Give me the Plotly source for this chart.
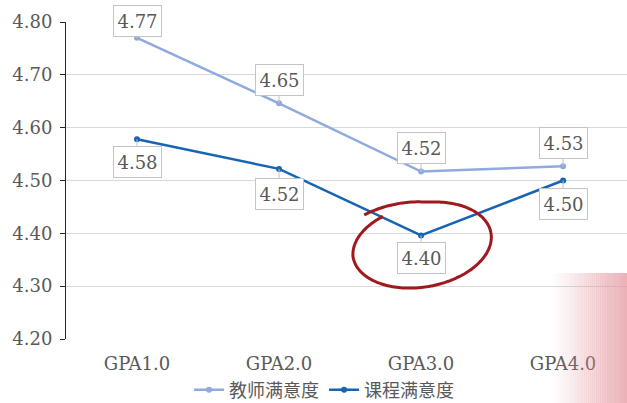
import numpy as np
import plotly.graph_objects as go

categories = ["GPA1.0", "GPA2.0", "GPA3.0", "GPA4.0"]
teacher = [4.770, 4.646, 4.517, 4.527]
course = [4.578, 4.522, 4.396, 4.500]
yticks = [4.20, 4.30, 4.40, 4.50, 4.60, 4.70, 4.80]

W, H = 627, 403
L, R, T, B = 66, 0, 22, 64
PW, PH = W - L - R, H - T - B

LIGHT = "#8FAADC"
DARK = "#1764B4"
GRAY = "#595959"
SERIF = "DejaVu Serif"

fig = go.Figure()
fig.add_trace(go.Scatter(x=categories, y=teacher, name="教师满意度", mode="lines+markers",
                         line=dict(color=LIGHT, width=2.5), marker=dict(size=6, color=LIGHT)))
fig.add_trace(go.Scatter(x=categories, y=course, name="课程满意度", mode="lines+markers",
                         line=dict(color=DARK, width=2.5), marker=dict(size=6, color=DARK)))

# callout labels
light_ay = [-17, -23, -24, -23]
dark_ay = [23, 25, 23, 23]
for series, ays in ((teacher, light_ay), (course, dark_ay)):
    for c, v, ay in zip(categories, series, ays):
        fig.add_annotation(x=c, y=v, text=f"{v:.2f}", showarrow=True, arrowhead=0,
                           arrowcolor="#C4C4C4", arrowwidth=1, ax=0, ay=ay,
                           bgcolor="white", bordercolor="#C4C4C4", borderwidth=1,
                           borderpad=1, width=45, height=28,
                           font=dict(family=SERIF, size=18, color=GRAY))

# hand-drawn red ellipse around the GPA3.0 course point (overlay axes in pixel units)
cx, cy, a, b, phi = 422, 245, 70, 42, np.radians(10)
t = np.radians(np.linspace(128, -240, 220))
deg = np.degrees(t)
scale = 1 + 0.2 * np.clip((deg - 80) / 48, 0, 1) - 0.04 * np.clip(-(deg + 180) / 60, 0, 1)
ex = a * scale * np.cos(t)
ey = b * scale * np.sin(t)
rx = ex * np.cos(phi) - ey * np.sin(phi)
ry = ex * np.sin(phi) + ey * np.cos(phi)
fig.add_trace(go.Scatter(x=cx + rx, y=cy - ry, mode="lines", xaxis="x2", yaxis="y2",
                         line=dict(color="#A0191E", width=3, shape="spline"),
                         showlegend=False, hoverinfo="skip"))

def px2paper(px, py):
    return (px - L) / PW, (H - B - py) / PH

# pink gradient at bottom right
x0p, x1p, y0p, y1p = 550, 627, 273, 403
n = 40
for i in range(n):
    xa = x0p + (x1p - x0p) * i / n
    xb = x0p + (x1p - x0p) * (i + 1) / n
    alpha = 0.75 * ((i + 0.5) / n) ** 1.2
    p0 = px2paper(xa, y1p)
    p1 = px2paper(xb + 0.3, y0p)
    fig.add_shape(type="rect", xref="paper", yref="paper", x0=p0[0], y0=p0[1], x1=p1[0], y1=p1[1],
                  line=dict(width=0), fillcolor=f"rgba(228,150,158,{alpha:.3f})", layer="above")

fig.update_layout(
    width=W, height=H, margin=dict(l=L, r=R, t=T, b=B, autoexpand=False),
    paper_bgcolor="white", plot_bgcolor="white",
    showlegend=True,
    legend=dict(orientation="h", x=0.46, xanchor="center", y=(H - B - 390) / PH, yanchor="middle",
                font=dict(family="Noto Sans CJK SC", size=18, color=GRAY), itemwidth=30,
                bgcolor="rgba(0,0,0,0)"),
    xaxis=dict(type="category", range=[-0.5, 3.45], showgrid=False, showline=False,
               ticks="", tickfont=dict(family=SERIF, size=18, color=GRAY), ticklabelstandoff=12,
               automargin=False),
    yaxis=dict(range=[4.2, 4.8], tickvals=yticks, tickformat=".2f", showgrid=True,
               gridcolor="#D9D9D9", gridwidth=1, showline=True, linecolor="#262626", linewidth=1,
               ticks="outside", ticklen=5, tickcolor="#262626", zeroline=False,
               tickfont=dict(family=SERIF, size=18, color=GRAY), ticklabelstandoff=4,
               automargin=False),
    xaxis2=dict(overlaying="x", range=[L, W - R], visible=False, fixedrange=True),
    yaxis2=dict(overlaying="y", range=[H - B, T], visible=False, fixedrange=True),
)

fig.write_html("out.html", config={"displayModeBar": False},
               post_script="document.body.style.margin='0';document.body.style.overflow='hidden';")
